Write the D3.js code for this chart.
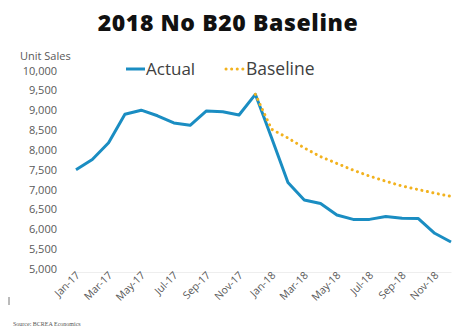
<!DOCTYPE html>
<html>
<head>
<meta charset="utf-8">
<script src="https://cdn.jsdelivr.net/npm/d3@7"></script>
<style>
  body { margin: 0; background: #fff; }
  svg { display: block; font-family: "Open Sans", sans-serif; }
</style>
</head>
<body>
<svg width="452" height="335"></svg>
<script>
// months shown on the chart
const months = ["Jan-17","Feb-17","Mar-17","Apr-17","May-17","Jun-17","Jul-17","Aug-17","Sep-17","Oct-17","Nov-17","Dec-17",
  "Jan-18","Feb-18","Mar-18","Apr-18","May-18","Jun-18","Jul-18","Aug-18","Sep-18","Oct-18","Nov-18","Dec-18"];
const tickLabels = ["Jan-17","Mar-17","May-17","Jul-17","Sep-17","Nov-17","Jan-18","Mar-18","May-18","Jul-18","Sep-18","Nov-18"];
const actual = [7500, 7760, 8180, 8900, 9000, 8860, 8680, 8620, 8980, 8960, 8880, 9400,
  8300, 7180, 6740, 6650, 6360, 6250, 6250, 6320, 6280, 6270, 5900, 5680];
// baseline starts at Dec-17
const baselineMonths = months.slice(11);
const baseline = [9400, 8520, 8300, 8050, 7830, 7660, 7490, 7340, 7210, 7090, 7000, 6910, 6830];
const yTicks = [5000, 5500, 6000, 6500, 7000, 7500, 8000, 8500, 9000, 9500, 10000];

const svg = d3.select("svg");
const blue = "#1a8dc2";
const orange = "#f2b21e";

const x = d3.scalePoint().domain(months).range([76, 451]);
const y = d3.scaleLinear().domain([5000, 10000]).range([269, 70.5]);

// title
svg.append("text")
  .attr("x", 228).attr("y", 31)
  .attr("text-anchor", "middle")
  .style("font-size", "23px").style("font-weight", 800)
  .style("letter-spacing", "0.6px")
  .attr("fill", "#111")
  .text("2018 No B20 Baseline");

// y axis
const yAxis = d3.axisLeft(y).tickValues(yTicks).tickFormat(d3.format(",")).tickSize(0).tickPadding(0);
const yg = svg.append("g").attr("transform", "translate(57,0)").call(yAxis);
yg.select(".domain").remove();
yg.selectAll("text").attr("fill", "#595959").style("font-size", "11px").style("font-family", "Open Sans, sans-serif");

svg.append("text")
  .attr("x", 20).attr("y", 60)
  .attr("fill", "#595959").style("font-size", "11px")
  .text("Unit Sales");

// x axis
const xAxis = d3.axisBottom(x).tickValues(tickLabels).tickSize(0).tickPadding(0);
const xg = svg.append("g").attr("transform", "translate(0,272)").call(xAxis);
xg.select(".domain").attr("stroke", "#eeeeee");
xg.selectAll("text")
  .attr("fill", "#595959").style("font-size", "10.5px").style("font-family", "Open Sans, sans-serif")
  .attr("text-anchor", "end")
  .attr("dx", "0").attr("dy", "0")
  .attr("transform", "translate(4,4) rotate(-45)");

// lines
const line = d3.line().x((d) => x(d.m)).y((d) => y(d.v));

svg.append("path")
  .datum(months.map((m, i) => ({ m: m, v: actual[i] })))
  .attr("d", line)
  .attr("fill", "none")
  .attr("stroke", blue)
  .attr("stroke-width", 3)
  .attr("stroke-linejoin", "round");

svg.append("path")
  .datum(baselineMonths.map((m, i) => ({ m: m, v: baseline[i] })))
  .attr("d", line)
  .attr("fill", "none")
  .attr("stroke", orange)
  .attr("stroke-width", 3)
  .attr("stroke-dasharray", "0.1 5.5")
  .attr("stroke-linecap", "round");

// legend
svg.append("line").attr("x1", 126).attr("x2", 145).attr("y1", 69).attr("y2", 69)
  .attr("stroke", blue).attr("stroke-width", 3);
svg.append("text").attr("x", 146).attr("y", 75)
  .attr("fill", "#404040").style("font-size", "17px").text("Actual");
svg.append("line").attr("x1", 226).attr("x2", 243).attr("y1", 69).attr("y2", 69)
  .attr("stroke", orange).attr("stroke-width", 3)
  .attr("stroke-dasharray", "0.1 5.5").attr("stroke-linecap", "round");
svg.append("text").attr("x", 246).attr("y", 75)
  .attr("fill", "#404040").style("font-size", "17.5px").text("Baseline");

// source
svg.append("line").attr("x1", 9).attr("x2", 9).attr("y1", 297).attr("y2", 305)
  .attr("stroke", "#777").attr("stroke-width", 1);
svg.append("text").attr("x", 13).attr("y", 326)
  .attr("fill", "#555").style("font-size", "6px").style("font-family", "Liberation Serif, serif")
  .text("Source: BCREA Economics");
</script>
</body>
</html>
